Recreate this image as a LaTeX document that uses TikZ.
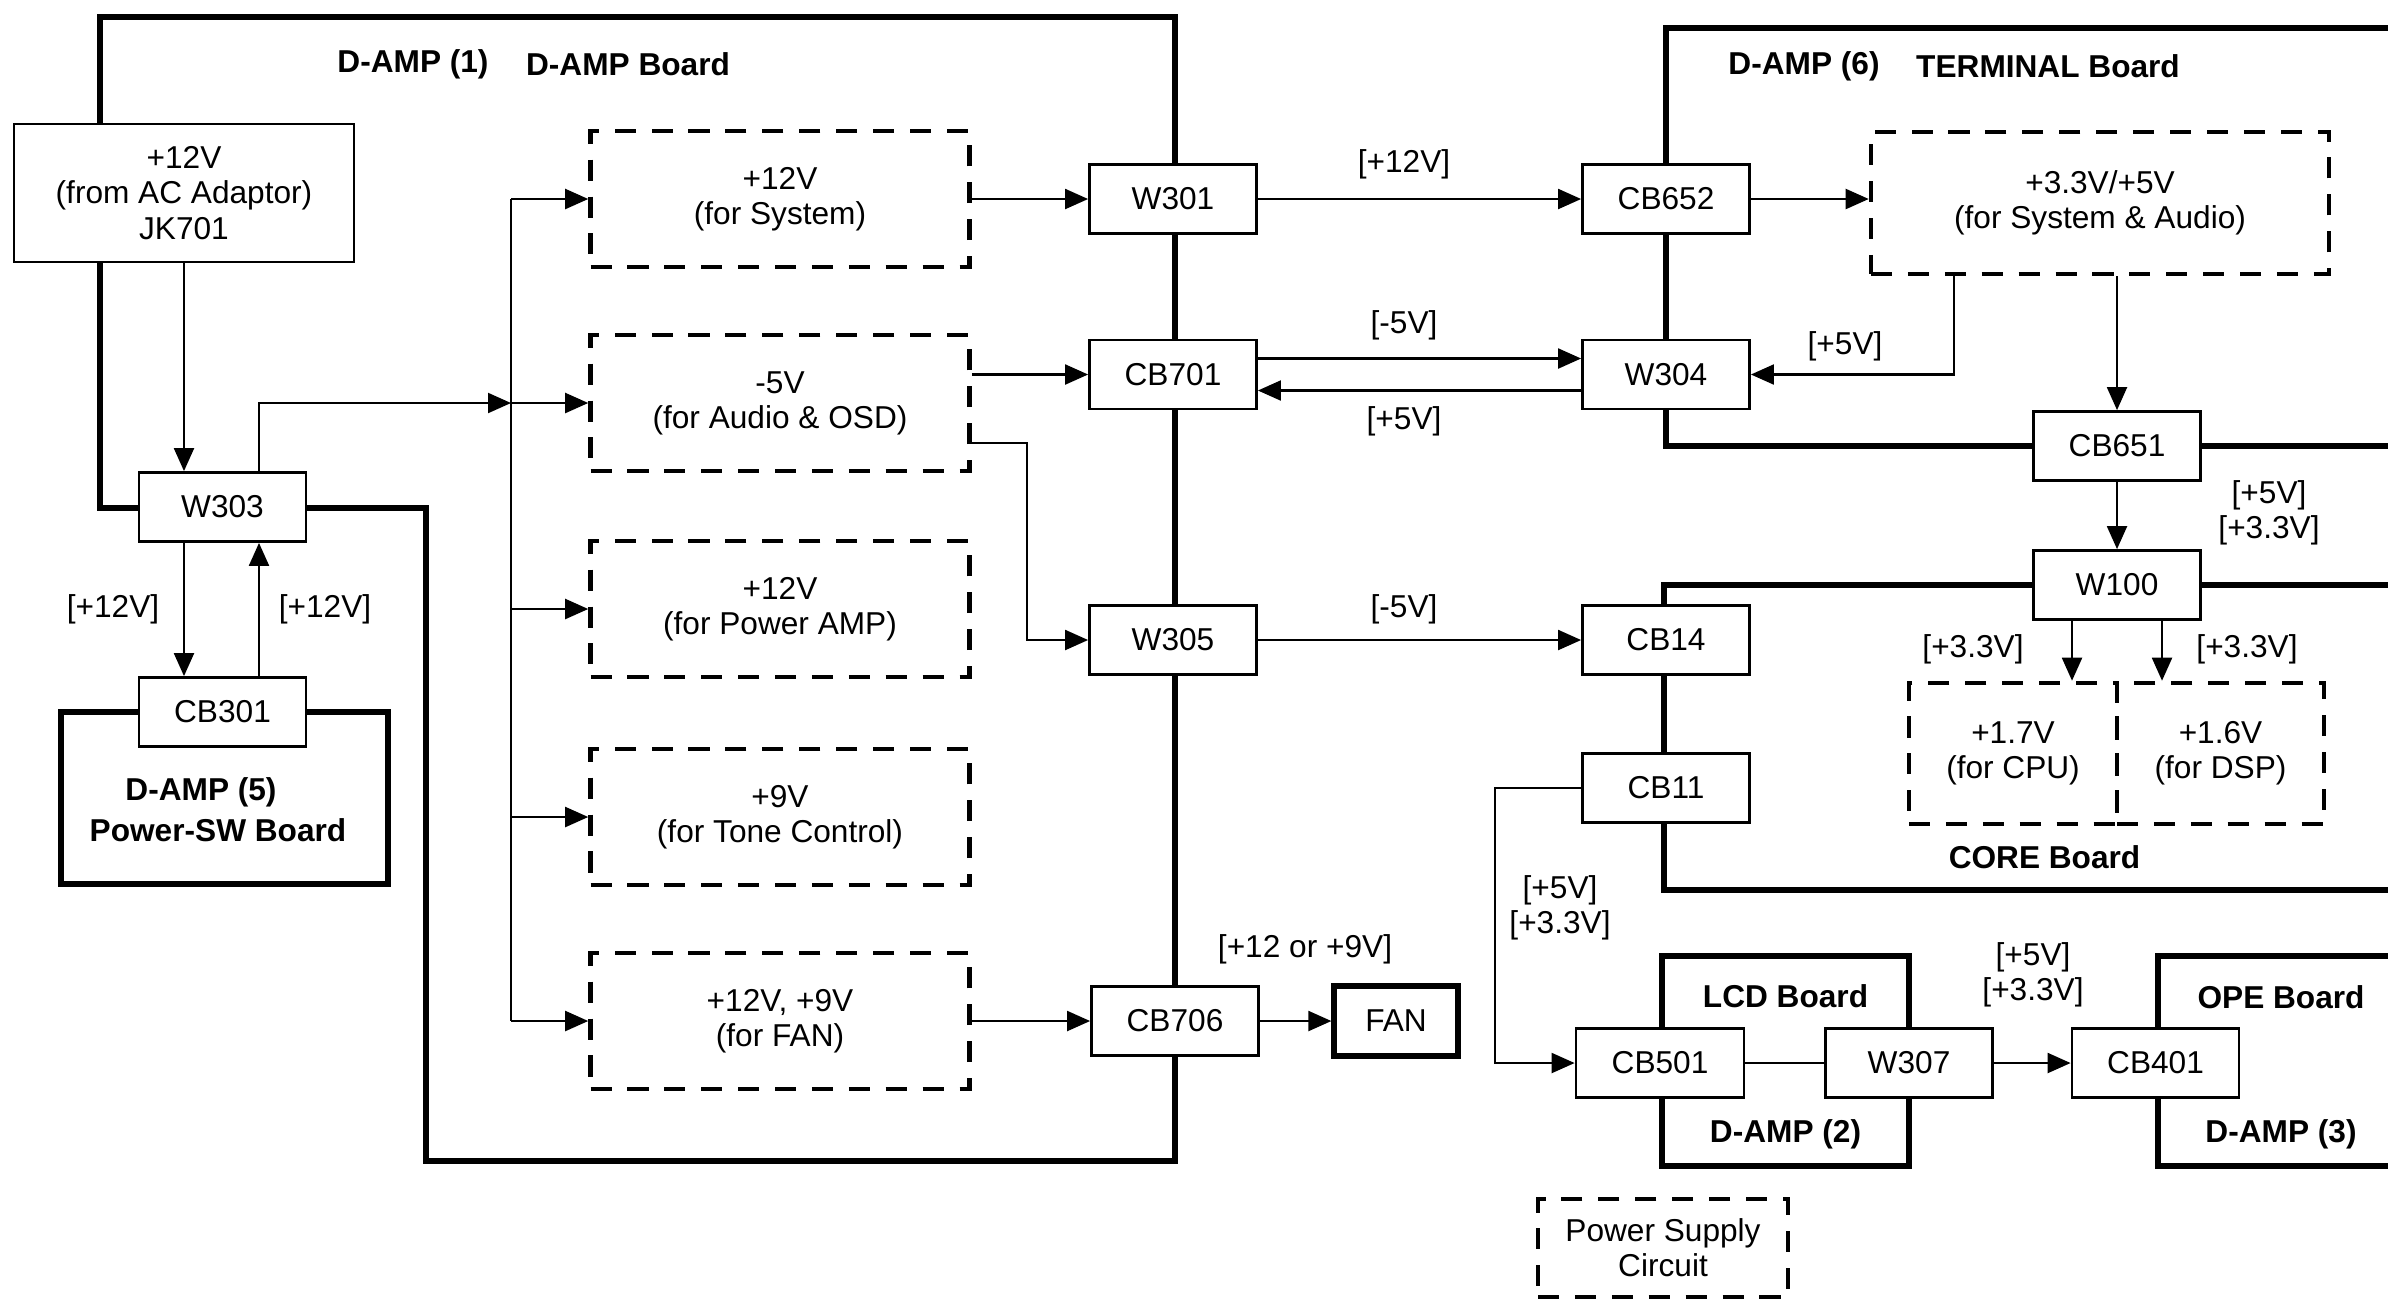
\documentclass[tikz,border=0pt]{standalone}
\usepackage{fontspec}
\setmainfont{Liberation Sans}
\usetikzlibrary{arrows.meta}

\begin{document}
\begin{tikzpicture}[
  x=1cm, y=-1cm,
  font=\fontsize{9}{10}\selectfont,
  >={Triangle[length=2.3mm,width=2mm]},
  conn/.style={draw, fill=white, line width=0.8pt, minimum width=1.67cm,
               minimum height=0.69cm, inner sep=1pt},
  psu/.style={draw, line width=1.3pt, dash pattern=on 6pt off 4.5pt,
              minimum width=3.79cm, minimum height=1.36cm, align=center},
  board/.style={line width=1.7pt},
  arr/.style={->, line width=0.6pt},
  lbl/.style={align=center, inner sep=1pt},
  ttl/.style={font=\fontsize{9}{10}\selectfont\bfseries, inner sep=1pt},
]
\useasboundingbox (0,0) rectangle (23.88,13.01);
\clip (0,0) rectangle (23.88,13.01);

\draw[board] (1.00,0.17) -- (11.75,0.17) -- (11.75,11.61) -- (4.26,11.61)
  -- (4.26,5.08) -- (1.00,5.08) -- cycle;
\draw[board] (0.61,7.12) rectangle (3.88,8.84);
\draw[board] (24.2,0.28) -- (16.66,0.28) -- (16.66,4.46) -- (24.2,4.46);
\draw[board] (24.2,5.85) -- (16.64,5.85) -- (16.64,8.90) -- (24.2,8.90);
\draw[board] (16.62,9.56) rectangle (19.09,11.66);
\draw[board] (24.2,9.56) -- (21.58,9.56) -- (21.58,11.66) -- (24.2,11.66);

\node[conn, minimum width=3.40cm, minimum height=1.38cm, align=center] (jk701)
  at (1.84,1.93) {+12V\\(from AC Adaptor)\\JK701};
\node[conn] (w303)  at (2.225,5.07) {W303};
\node[conn] (cb301) at (2.225,7.12) {CB301};

\node[psu] (sys)   at (7.80,1.99)  {+12V\\(for System)};
\node[psu] (audio) at (7.80,4.03)  {-5V\\(for Audio \& OSD)};
\node[psu] (pamp)  at (7.80,6.09)  {+12V\\(for Power AMP)};
\node[psu] (tone)  at (7.80,8.17)  {+9V\\(for Tone Control)};
\node[psu] (fan)   at (7.80,10.21) {+12V, +9V\\(for FAN)};

\node[conn] (w301)  at (11.73,1.99)  {W301};
\node[conn] (cb701) at (11.73,3.745) {CB701};
\node[conn] (w305)  at (11.73,6.40)  {W305};
\node[conn] (cb706) at (11.75,10.21) {CB706};
\node[conn, line width=1.5pt, minimum width=1.24cm, minimum height=0.70cm]
  (fanunit) at (13.96,10.21) {FAN};

\node[conn] (cb652) at (16.66,1.99)  {CB652};
\node[conn] (w304)  at (16.66,3.745) {W304};
\node[psu, minimum width=4.58cm, minimum height=1.42cm] (sysaud)
  at (21.00,2.03) {+3.3V/+5V\\(for System \& Audio)};
\node[conn] (cb651) at (21.17,4.46) {CB651};
\node[conn] (w100)  at (21.17,5.85) {W100};
\node[conn] (cb14)  at (16.66,6.40) {CB14};
\node[conn] (cb11)  at (16.66,7.88) {CB11};
\node[psu, minimum width=2.08cm, minimum height=1.41cm] (cpu)
  at (20.13,7.535) {+1.7V\\(for CPU)};
\node[psu, minimum width=2.07cm, minimum height=1.41cm] (dsp)
  at (22.205,7.535) {+1.6V\\(for DSP)};

\node[conn, minimum width=1.68cm] (cb501) at (16.60,10.63) {CB501};
\node[conn] (w307)  at (19.09,10.63)  {W307};
\node[conn] (cb401) at (21.555,10.63) {CB401};

\node[psu, minimum width=2.50cm, minimum height=0.98cm] (legend)
  at (16.63,12.48) {Power Supply\\Circuit};

\node[ttl] (t1a)   at (4.13,0.64)   {D-AMP (1)};
\node[ttl] (t1b)   at (6.28,0.64)   {D-AMP Board};
\node[ttl] (t6a)   at (18.04,0.66)  {D-AMP (6)};
\node[ttl] (t6b)   at (20.48,0.66)  {TERMINAL Board};
\node[ttl] (t5a)   at (2.01,7.92)   {D-AMP (5)};
\node[ttl] (t5b)   at (2.18,8.30)   {Power-SW Board};
\node[ttl] (tcore) at (20.445,8.57) {CORE Board};
\node[ttl] (tlcd)  at (17.855,9.96) {LCD Board};
\node[ttl] (t2)    at (17.855,11.34) {D-AMP (2)};
\node[ttl] (tope)  at (22.81,9.97)  {OPE Board};
\node[ttl] (t3)    at (22.81,11.34) {D-AMP (3)};

\node[lbl] (v1)  at (1.13,6.09)   {[+12V]};
\node[lbl] (v2)  at (3.25,6.09)   {[+12V]};
\node[lbl] (v3)  at (14.04,1.64)  {[+12V]};
\node[lbl] (v4)  at (14.04,3.25)  {[-5V]};
\node[lbl] (v5)  at (14.04,4.21)  {[+5V]};
\node[lbl] (v6)  at (18.45,3.46)  {[+5V]};
\node[lbl] (v7)  at (22.69,5.13)  {[+5V]\\{[+3.3V]}};
\node[lbl] (v8)  at (19.73,6.49)  {[+3.3V]};
\node[lbl] (v9)  at (22.47,6.49)  {[+3.3V]};
\node[lbl] (v10) at (14.04,6.09)  {[-5V]};
\node[lbl] (v11) at (15.60,9.075) {[+5V]\\{[+3.3V]}};
\node[lbl] (v12) at (20.33,9.745) {[+5V]\\{[+3.3V]}};
\node[lbl] (v13) at (13.05,9.49)  {[+12 or +9V]};

\coordinate (bustop) at (5.11,1.99);
\coordinate (busbot) at (5.11,10.21);
\draw[arr] (jk701.south) -- (jk701.south |- w303.north);
\draw[arr] (w303.south -| jk701) -- (cb301.north -| jk701);
\draw[arr] ([xshift=3.65mm]cb301.north) -- ([xshift=3.65mm]w303.south);
\draw[arr] ([xshift=3.65mm]w303.north) |- (bustop |- audio);
\draw[line width=0.6pt] (bustop) -- (busbot);
\foreach \n in {sys,audio,pamp,tone,fan}
  \draw[arr] (bustop |- \n) -- (\n);
\draw[arr] (sys) -- (w301);
\draw[arr] (audio.east |- cb701) -- (cb701);
\draw[arr] ([yshift=-4mm]audio.east) -- ++(0.55,0) |- (w305);
\draw[arr] (fan) -- (cb706);
\draw[arr] (cb706) -- (fanunit);
\draw[arr] (w301) -- (cb652);
\draw[arr] (cb652) -- (cb652 -| sysaud.west);
\draw[arr] ([yshift=1.6mm]cb701.east) -- ([yshift=1.6mm]w304.west);
\draw[arr] ([yshift=-1.6mm]w304.west) -- ([yshift=-1.6mm]cb701.east);
\draw[arr] ([xshift=-14.6mm]sysaud.south) |- (w304);
\draw[arr] (sysaud.south -| cb651) -- (cb651);
\draw[arr] (cb651) -- (w100);
\draw[arr] ([xshift=-4.5mm]w100.south) -- ([xshift=-4.5mm]w100.south |- cpu.north);
\draw[arr] ([xshift=4.5mm]w100.south) -- ([xshift=4.5mm]w100.south |- dsp.north);
\draw[arr] (w305) -- (cb14);
\draw[arr] (cb11) -- ++(-1.71,0) |- (cb501);
\draw[line width=0.6pt] (cb501) -- (w307);
\draw[arr] (w307) -- (cb401);
\end{tikzpicture}
\end{document}
